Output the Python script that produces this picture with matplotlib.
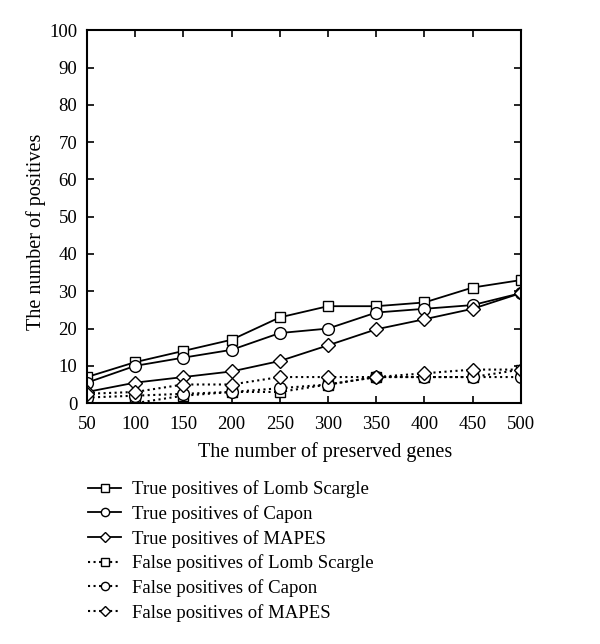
import numpy as np
import matplotlib.pyplot as plt

genes = [50, 100, 150, 200, 250, 300, 350, 400, 450, 500]

tp_lomb = [7, 11, 14, 17, 23, 26, 26, 27, 31, 33]
tp_capon = [5.5, 10, 12.2, 14.3, 18.8, 20, 24.3, 25.3, 26.3, 29.5]
tp_mapes = [3, 5.5, 7, 8.5, 11.3, 15.5, 19.8, 22.5, 25.3, 29.5]

fp_lomb = [0, 0, 2, 3, 3, 5, 7, 7, 7, 9]
fp_capon = [1.5, 2, 2.5, 3, 4, 5, 7, 7, 7, 7]
fp_mapes = [2.5, 3, 5, 5, 7, 7, 7, 8, 9, 9]

plt.rcParams['font.family'] = ['Liberation Serif', 'DejaVu Serif']
plt.rc('font', size=13.5)

fig = plt.figure(figsize=(6, 6.44), dpi=100)
ax = fig.add_axes([0.145, 0.374, 0.723, 0.579])

style = dict(color='black', markerfacecolor='white', markeredgewidth=1.0)
ax.plot(genes, tp_lomb, '-', marker='s', ms=7.5, lw=1.3, label='True positives of Lomb Scargle', **style)
ax.plot(genes, tp_capon, '-', marker='o', ms=8.5, lw=1.3, label='True positives of Capon', **style)
ax.plot(genes, tp_mapes, '-', marker='D', ms=7, lw=1.3, label='True positives of MAPES', **style)
ax.plot(genes, fp_lomb, ':', marker='s', ms=7.5, lw=1.5, label='False positives of Lomb Scargle', **style)
ax.plot(genes, fp_capon, ':', marker='o', ms=8.5, lw=1.5, label='False positives of Capon', **style)
ax.plot(genes, fp_mapes, ':', marker='D', ms=7, lw=1.5, label='False positives of MAPES', **style)

ax.set_xlim(50, 500)
ax.set_ylim(0, 100)
ax.set_xticks(genes)
ax.set_yticks(np.arange(0, 101, 10))
ax.tick_params(direction='in', top=True, right=True, length=5, width=1.2)
ax.tick_params(axis='y', pad=7)
ax.tick_params(axis='x', pad=9)
for s in ax.spines.values():
    s.set_linewidth(1.5)

ax.set_xlabel('The number of preserved genes', fontsize=14.5)
ax.set_ylabel('The number of positives', fontsize=14.5)
ax.xaxis.set_label_coords(0.55, -0.105)
ax.yaxis.set_label_coords(-0.095, 0.46)

handles, labels = ax.get_legend_handles_labels()
fig.legend(handles, labels, loc='upper left', bbox_to_anchor=(0.118, 0.28),
           frameon=False, fontsize=13.5, handlelength=1.8, handletextpad=0.55,
           labelspacing=0.36, markerscale=0.7)

fig.savefig('out.png', dpi=100)
